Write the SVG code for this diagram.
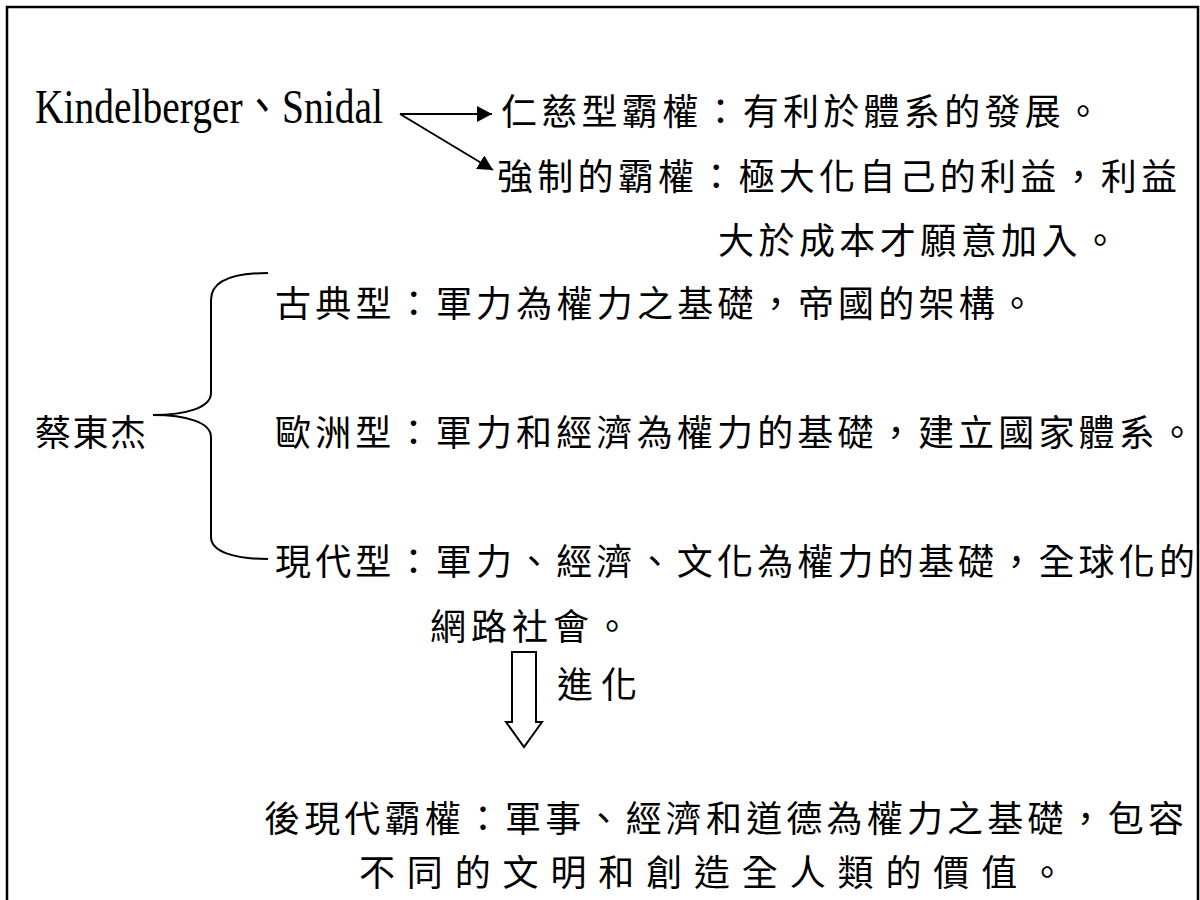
<svg xmlns="http://www.w3.org/2000/svg" width="1200" height="900" viewBox="0 0 1200 900">
  <style>
    .t { font-family: 'Liberation Serif', 'Noto Sans CJK TC', serif; font-size: 36px; fill: #000; }
    .lat { font-family: 'Liberation Serif', 'Noto Sans CJK TC', serif; font-size: 48px; fill: #000; }
    .ln { fill: none; stroke: #000; stroke-width: 2; }
  </style>
  <defs>
    <marker id="ah" markerUnits="userSpaceOnUse" markerWidth="16" markerHeight="16" refX="15" refY="8" orient="auto">
      <path d="M0,0 L15,8 L0,16 Z" fill="#000"/>
    </marker>
  </defs>
  <rect x="0" y="0" width="1200" height="900" fill="#fff"/>
  <path d="M7,900 L7,7 L1198,7 L1198,900" fill="none" stroke="#000" stroke-width="2.5"/>

  <g id="kindelberger">
    <text class="lat" x="35" y="123" textLength="348" lengthAdjust="spacingAndGlyphs">Kindelberger、Snidal</text>
  </g>
  <g id="benevolent">
    <text class="t" x="501" y="125" textLength="600" lengthAdjust="spacing">仁慈型霸權：有利於體系的發展。</text>
  </g>
  <g id="coercive">
    <text class="t" x="497" y="190" textLength="680" lengthAdjust="spacing">強制的霸權：極大化自己的利益，利益</text>
    <text class="t" x="718" y="254" textLength="400" lengthAdjust="spacing">大於成本才願意加入。</text>
  </g>
  <g id="cai">
    <text class="t" x="35" y="446" textLength="111" lengthAdjust="spacing">蔡東杰</text>
  </g>
  <g id="classical">
    <text class="t" x="275" y="317" textLength="760" lengthAdjust="spacing">古典型：軍力為權力之基礎，帝國的架構。</text>
  </g>
  <g id="european">
    <text class="t" x="275" y="446" textLength="920" lengthAdjust="spacing">歐洲型：軍力和經濟為權力的基礎，建立國家體系。</text>
  </g>
  <g id="modern">
    <text class="t" x="275" y="575" textLength="920" lengthAdjust="spacing">現代型：軍力、經濟、文化為權力的基礎，全球化的</text>
    <text class="t" x="430" y="640" textLength="200" lengthAdjust="spacing">網路社會。</text>
  </g>
  <g id="evolve">
    <text class="t" x="557" y="698" textLength="80" lengthAdjust="spacing">進化</text>
  </g>
  <g id="postmodern">
    <text class="t" x="264" y="832" textLength="920" lengthAdjust="spacing">後現代霸權：軍事、經濟和道德為權力之基礎，包容</text>
    <text class="t" x="359" y="886" textLength="706" lengthAdjust="spacing">不同的文明和創造全人類的價值。</text>
  </g>

  <g id="connectors">
    <path class="ln" d="M400,114 L492,114" marker-end="url(#ah)"/>
    <path class="ln" d="M400,114 L493,170" marker-end="url(#ah)"/>
    <path class="ln" d="M268,273 C235,273 211,280 211,300 L211,393 C211,408 185,415 153,415 C185,415 211,422 211,437 L211,537 C211,552 235,559 268,559"/>
    <path class="ln" d="M512,652 L536,652 L536,722 L542,722 L524,747 L506,722 L512,722 Z"/>
  </g>
</svg>
